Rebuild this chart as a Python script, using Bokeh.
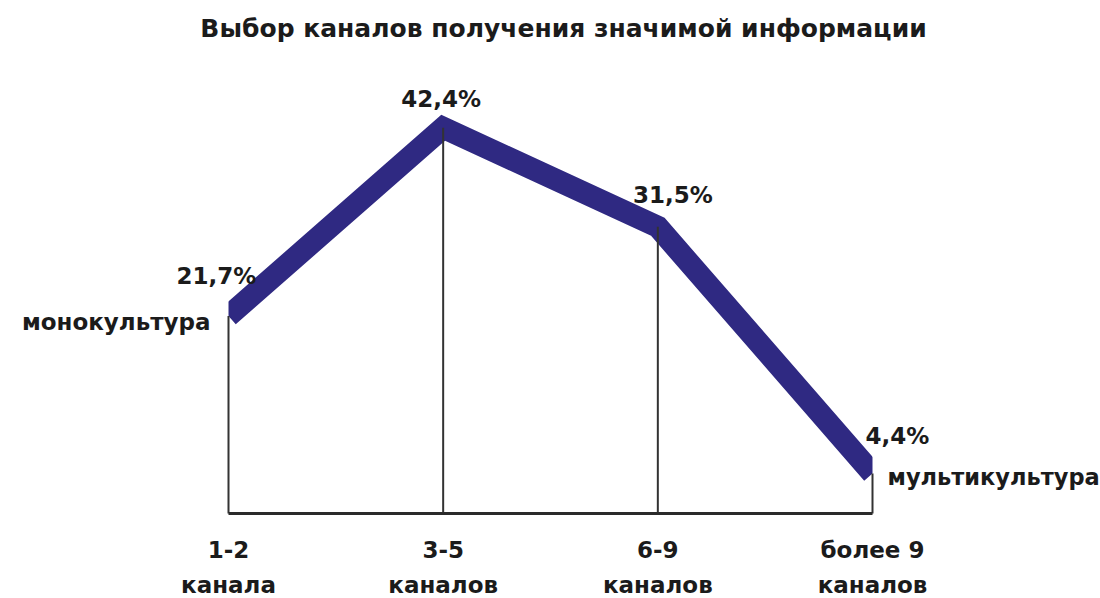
from bokeh.plotting import figure
from bokeh.models import Range1d, Label
from bokeh.embed import file_html
from bokeh.resources import INLINE

# ---- data ----
categories = ["1-2\nканала", "3-5\nканалов", "6-9\nканалов", "более 9\nканалов"]
shares = [21.7, 42.4, 31.5, 4.4]
end_labels = ["монокультура", "мультикультура"]
title_text = "Выбор каналов получения значимой информации"

xs = list(range(len(categories)))
FONT = "DejaVu Sans"
TXT = "#1b1b1b"
BAND = "#2f2982"

W, H = 1100, 598
# x: first category at 228px, last at 872px of the canvas
kx = 644 / (len(xs) - 1)
x0 = -228 / kx
x1 = x0 + W / kx
# y: 9.1 px per percentage point, zero line at 513px from top
ky = 9.1
y1 = 513 / ky
y0 = y1 - H / ky

p = figure(width=W, height=H, output_backend="svg", toolbar_location=None,
           x_range=Range1d(x0, x1), y_range=Range1d(y0, y1),
           x_axis_location=None, y_axis_location=None,
           min_border_left=0, min_border_right=0, min_border_top=0, min_border_bottom=0)
p.outline_line_color = None
p.grid.visible = False
p.background_fill_color = "white"
p.border_fill_color = "white"

# thick line
p.line(xs, shares, line_color=BAND, line_width=22, line_join="miter", line_cap="butt")

# trim the band flat at the first and last category
p.quad(left=[x0, xs[-1]], right=[xs[0], x1], bottom=[y0, y0], top=[y1, y1],
       fill_color="white", line_color=None)

# vertical drop lines and baseline
p.segment(x0=xs, y0=[0] * len(xs), x1=xs, y1=shares, line_color="#333333", line_width=2)
p.segment(x0=[xs[0]], y0=[0], x1=[xs[-1]], y1=[0], line_color="#2a2a2a", line_width=3)

SHIFT = 9  # rendered text sits this much lower than its anchor

def lab(x, y, text, dx, dy, align, size="23px"):
    p.add_layout(Label(x=x, y=y, x_offset=dx, y_offset=dy + SHIFT, text=text, text_align=align,
                       text_baseline="alphabetic", text_font=FONT, text_font_style="bold",
                       text_font_size=size, text_color=TXT))

# category labels (two lines each)
for x, c in zip(xs, categories):
    top, bottom = c.split("\n")
    lab(x, 0, top, 0, -45, "center")
    lab(x, 0, bottom, 0, -80, "center")

# percentage labels
pct_dx = [-12, -2, 15, -7]
pct_dy = [31, 20, 23, 28]
pct_align = ["center", "center", "center", "left"]
for x, v, dx, dy, al in zip(xs, shares, pct_dx, pct_dy, pct_align):
    lab(x, v, f"{v:.1f}%".replace(".", ","), dx, dy, al)

# end labels
lab(xs[0], shares[0], end_labels[0], -18, -15, "right", "23px")
lab(xs[-1], shares[-1], end_labels[1], 15, -13, "left", "22.5px")

# title
lab((xs[0] + xs[-1]) / 2, y1, title_text, 13, -37, "center", "25px")

open("out.html", "w").write(file_html(p, INLINE))
